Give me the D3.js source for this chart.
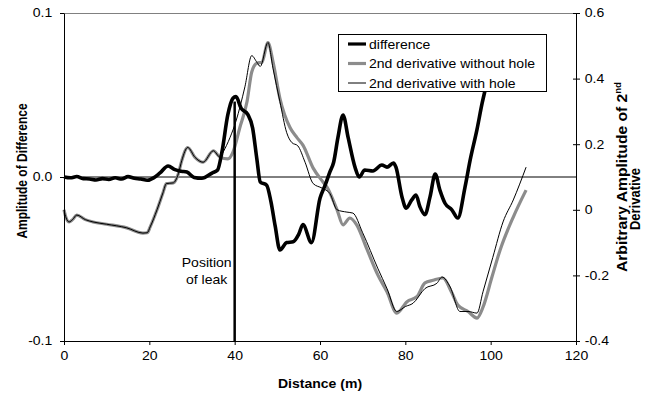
<!DOCTYPE html>
<html>
<head>
<meta charset="utf-8">
<script src="https://cdn.jsdelivr.net/npm/d3@7"></script>
<style>
    body { margin: 0; background: #fff; }
    text { font-family: "Liberation Sans", Arial, sans-serif; fill: #000; }
</style>
</head>
<body>
<div id="vis"></div>
<script>
// Difference between the two traces (left axis)
var diffDist = [0, 1.5, 3, 4.5, 6, 7.5, 9, 10.5, 12, 13.5, 15, 16.5, 18, 19.5, 21, 22.5, 24.4, 26, 27.5, 28.8,
    30.5, 32.3, 34.7, 36, 37, 38.4, 39.6, 40.3, 41.5, 43.1, 44.2, 45.2, 46, 47.5, 48.5, 49.5, 50.6, 52.2, 53.7, 55,
    56, 58, 60, 61.2, 62.3, 63.2, 64.2, 65.4, 66.6, 68.2, 69.2, 70.5, 72.4, 74.5, 75.7, 77.2, 77.8, 79.2, 80.2, 81.5,
    82.5, 83.4, 84.6, 85.8, 87, 88.1, 89.3, 90.9, 92.3, 94, 95.2, 96.8, 98, 98.7, 100.5];
var diffAmp = [0, -0.0005, 0.0003, -0.001, -0.0012, -0.0018, -0.001, -0.0015, -0.0005, -0.0012, 0.0002, -0.0008, -0.0012, -0.002, -0.0005, 0.0025, 0.0067, 0.0045, 0.0035, 0.003,
    -0.0003, -0.0008, 0.0024, 0.0043, 0.015, 0.038, 0.048, 0.049, 0.042, 0.038, 0.030, 0.011, -0.003, -0.005, -0.015, -0.030, -0.0445, -0.040, -0.0395, -0.035,
    -0.029, -0.040, -0.013, -0.005, 0.003, 0.009, 0.024, 0.0378, 0.024, 0.006, 0.0, 0.0043, 0.0037, 0.0073, 0.006, 0.0085, 0.006, -0.012, -0.019, -0.014,
    -0.011, -0.018, -0.023, -0.012, 0.0018, -0.008, -0.016, -0.020, -0.025, -0.006, 0.0104, 0.029, 0.045, 0.053, 0.072];

// 2nd derivative without hole (right axis)
var noHoleDist = [0, 0.5, 1.2, 2, 3, 5, 6.8, 10, 14.7, 18.5, 19.5, 20.2, 21.8, 23.2, 24, 25.6, 26.8, 27.6, 29, 30.7,
    32.6, 35, 36.6, 38.4, 39.6, 41.2, 42.9, 44, 45.2, 46.4, 47.8, 49, 50.6, 53, 54.6, 56, 58.4, 60.7, 61.6, 64,
    65.4, 67, 68.6, 71, 73.6, 75.7, 78, 80.4, 82.7, 84.6, 86.5, 88.8, 90.9, 92.3, 94.7, 96.8, 98.2, 100.3, 102.2, 105.3, 108.3];
var noHoleAmp = [0, -0.025, -0.037, -0.03, -0.016, -0.03, -0.037, -0.044, -0.055, -0.071, -0.07, -0.052, 0.0, 0.052, 0.08, 0.082, 0.11, 0.15, 0.19, 0.16,
    0.145, 0.18, 0.16, 0.155, 0.176, 0.25, 0.33, 0.42, 0.447, 0.45, 0.51, 0.45, 0.34, 0.25, 0.22, 0.197, 0.127, 0.085, 0.07, 0.0,
    -0.046, -0.025, -0.046, -0.12, -0.2, -0.25, -0.315, -0.28, -0.265, -0.223, -0.215, -0.208, -0.253, -0.29, -0.31, -0.33, -0.297, -0.205, -0.123, -0.022, 0.06];

// 2nd derivative with hole (right axis)
var holeDist = [0, 0.5, 1.2, 2, 3, 5, 6.8, 10, 14.7, 18.5, 19.5, 20.2, 21.8, 23.2, 24, 25.6, 26.8, 27.6, 29, 30.7,
    32.6, 35, 36.6, 37.3, 38.9, 40.3, 42.4, 44, 45.2, 46, 47.8, 49, 50.6, 52.2, 53.4, 54.8, 56.5, 58.4, 60.5, 62.3,
    64, 66.3, 67.7, 70, 73.6, 75.7, 78, 80, 81.8, 84.6, 87.4, 88.6, 90.5, 92.8, 94.7, 96.8, 98.2, 100.5, 102.9, 105.3, 108.3];
var holeAmp = [0, -0.025, -0.037, -0.03, -0.016, -0.03, -0.037, -0.044, -0.055, -0.071, -0.07, -0.052, 0.0, 0.052, 0.08, 0.082, 0.11, 0.15, 0.19, 0.16,
    0.145, 0.18, 0.16, 0.176, 0.22, 0.27, 0.375, 0.47, 0.45, 0.437, 0.51, 0.43, 0.33, 0.235, 0.205, 0.195, 0.145, 0.08, 0.066, 0.05,
    0.0, -0.007, -0.01, -0.07, -0.18, -0.24, -0.31, -0.295, -0.285, -0.24, -0.224, -0.205, -0.235, -0.31, -0.31, -0.315, -0.25, -0.145, -0.037, 0.03, 0.13];

// Leak marker
var leakDist = 40;
var leakTop = 0.046;

// Tick values
var xTicks = [0, 20, 40, 60, 80, 100, 120];
var leftTicks = [-0.1, 0, 0.1];
var rightTicks = [-0.4, -0.2, 0, 0.2, 0.4, 0.6];

var legendNames = ['difference', '2nd derivative without hole', '2nd derivative with hole'];

// the original picture is stretched sideways
var sx = 1.17;

var margin = { left: 64, right: 70, top: 13, bottom: 57 };
var width = 646, height = 398;
var drawWidth = width - margin.left - margin.right;
var drawHeight = height - margin.top - margin.bottom;

var svg = d3.select('#vis').append('svg')
    .attr('width', width)
    .attr('height', height);

var g = svg.append('g')
    .attr('transform', 'translate(' + margin.left + ',' + margin.top + ')');

var xScale = d3.scaleLinear().domain([0, 120]).range([0, drawWidth]);
var yLeft = d3.scaleLinear().domain([-0.1, 0.1]).range([drawHeight, 0]);
var yRight = d3.scaleLinear().domain([-0.4, 0.6]).range([drawHeight, 0]);

// plot area border (top edge grey)
g.append('line')
    .attr('x1', 0).attr('x2', drawWidth)
    .attr('y1', 0.5).attr('y2', 0.5)
    .attr('stroke', '#808080');

// zero line of the left axis
g.append('line')
    .attr('x1', 0).attr('x2', drawWidth)
    .attr('y1', yLeft(0)).attr('y2', yLeft(0))
    .attr('stroke', '#000').attr('stroke-width', 1);

var zip = function(a, b) {
    return a.map(function(d, i) { return [d, b[i]]; });
};

var lineLeft = d3.line()
    .x(function(d) { return xScale(d[0]); })
    .y(function(d) { return yLeft(d[1]); })
    .curve(d3.curveMonotoneX);

var lineRight = d3.line()
    .x(function(d) { return xScale(d[0]); })
    .y(function(d) { return yRight(d[1]); })
    .curve(d3.curveMonotoneX);

g.append('path')
    .datum(zip(noHoleDist, noHoleAmp))
    .attr('d', lineRight)
    .attr('fill', 'none')
    .attr('stroke', '#8c8c8c')
    .attr('stroke-width', 3.2);

g.append('path')
    .datum(zip(holeDist, holeAmp))
    .attr('d', lineRight)
    .attr('fill', 'none')
    .attr('stroke', '#000')
    .attr('stroke-width', 1);

g.append('path')
    .datum(zip(diffDist, diffAmp))
    .attr('d', lineLeft)
    .attr('fill', 'none')
    .attr('stroke', '#000')
    .attr('stroke-width', 3.6)
    .attr('stroke-linejoin', 'round');

// position of leak
g.append('line')
    .attr('x1', xScale(leakDist)).attr('x2', xScale(leakDist))
    .attr('y1', yLeft(leakTop)).attr('y2', yLeft(-0.1))
    .attr('stroke', '#000')
    .attr('stroke-width', 2.5);

var hText = function(sel, x, y, str, anchor) {
    return sel.append('text')
        .attr('transform', 'translate(' + x + ',' + y + ') scale(' + sx + ',1)')
        .attr('text-anchor', anchor || 'start')
        .style('font-size', '12px')
        .text(str);
};

hText(g, xScale(leakDist) - 28, 254, 'Position', 'middle');
hText(g, xScale(leakDist) - 28, 271, 'of leak', 'middle');

// axes
var xAxis = d3.axisBottom(xScale).tickValues(xTicks).tickSize(4).tickSizeOuter(0).tickPadding(6);
var leftAxis = d3.axisLeft(yLeft).tickValues(leftTicks).tickSize(4).tickSizeOuter(0).tickPadding(7)
    .tickFormat(function(d) { return d.toFixed(1); });
var rightAxis = d3.axisRight(yRight).tickValues(rightTicks).tickSize(4).tickSizeOuter(0).tickPadding(6)
    .tickFormat(function(d) { return Math.abs(d) < 1e-9 ? '0' : d.toFixed(1); });

var xg = g.append('g').attr('transform', 'translate(0,' + drawHeight + ')').call(xAxis);
var lg = g.append('g').call(leftAxis);
var rg = g.append('g').attr('transform', 'translate(' + drawWidth + ',0)').call(rightAxis);

[xg, lg, rg].forEach(function(a) {
    a.selectAll('.domain').attr('stroke', '#000');
    a.selectAll('.tick line').attr('stroke', '#000');
    a.selectAll('text')
        .style('font-size', '12px')
        .style('font-family', '"Liberation Sans", Arial, sans-serif')
        .attr('transform', 'scale(' + sx + ',1)');
});
lg.selectAll('text').attr('x', -10);
rg.selectAll('text').attr('x', 7.5);
// right axis ticks cross the axis
rg.selectAll('.tick').append('line')
    .attr('x1', -3).attr('x2', 0)
    .attr('stroke', '#000');

// axis titles
svg.append('text')
    .attr('transform', 'translate(27,171) rotate(-90) scale(1,' + sx + ')')
    .attr('text-anchor', 'middle')
    .style('font-size', '12px')
    .style('font-weight', 'bold')
    .text('Amplitude of Difference');

var rt = svg.append('text')
    .attr('transform', 'translate(627,177) rotate(-90) scale(1,' + sx + ')')
    .attr('text-anchor', 'middle')
    .attr('textLength', 190)
    .attr('lengthAdjust', 'spacingAndGlyphs')
    .style('font-size', '13px')
    .style('font-weight', 'bold');
rt.append('tspan').text('Arbitrary Amplitude of 2');
rt.append('tspan').attr('dy', -5).style('font-size', '8px').text('nd');

svg.append('text')
    .attr('transform', 'translate(640,199) rotate(-90) scale(1,' + sx + ')')
    .attr('text-anchor', 'middle')
    .style('font-size', '13px')
    .style('font-weight', 'bold')
    .text('Derivative');

hText(svg, margin.left + xScale(60), 388, 'Distance (m)', 'middle')
    .style('font-weight', 'bold');

// legend
var legend = svg.append('g').attr('transform', 'translate(338,34)');
legend.append('rect')
    .attr('x', 0.5).attr('y', 0.5)
    .attr('width', 208).attr('height', 57)
    .attr('fill', '#fff')
    .attr('stroke', '#000');

var legendStyles = [
    { color: '#000', w: 3.2 },
    { color: '#8c8c8c', w: 3.2 },
    { color: '#000', w: 1 }
];
legendNames.forEach(function(name, i) {
    var cy = 10 + i * 19.5;
    legend.append('line')
        .attr('x1', 10).attr('x2', 28)
        .attr('y1', cy).attr('y2', cy)
        .attr('stroke', legendStyles[i].color)
        .attr('stroke-width', legendStyles[i].w);
    hText(legend, 31, cy + 4.5, name);
});
</script>
</body>
</html>
